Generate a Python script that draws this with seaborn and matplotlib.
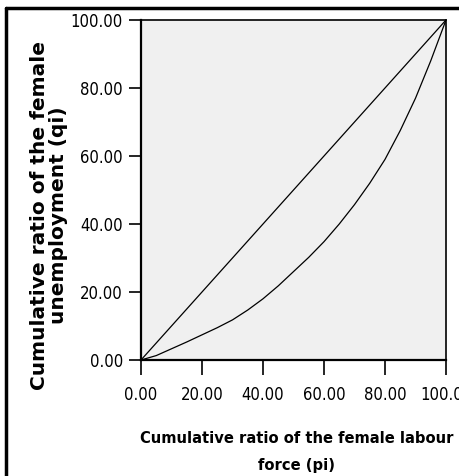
import matplotlib
matplotlib.use("Agg")
import matplotlib.pyplot as plt
from matplotlib import font_manager as fm
from matplotlib.lines import Line2D
import seaborn as sns
import pandas as pd

# cumulative shares (percent)
pi_equal = [0, 100]
qi_equal = [0, 100]

pi_lorenz = [0, 5, 10, 15, 20, 25, 30, 35, 40, 45, 50, 55, 60, 65, 70, 75, 80, 85, 90, 95, 100]
qi_lorenz = [0, 1.3, 3.3, 5.3, 7.4, 9.5, 11.8, 14.7, 18.0, 21.8, 26.0, 30.2, 34.8, 40.0,
             45.7, 52.0, 59.0, 67.5, 77.0, 88.0, 100]

ticks = [0, 20, 40, 60, 80, 100]
tick_labels = ["0.00", "20.00", "40.00", "60.00", "80.00", "100.00"]


def find_font(bold):
    # look for a narrow / condensed sans face, like the SPSS output uses
    keys = ["liberationsansnarrow", "arialnarrow", "dejavusanscondensed",
            "robotocondensed", "opensanscondensed", "notosanscondensed"]
    files = [f.fname for f in fm.fontManager.ttflist]
    for k in keys:
        for fn in files:
            low = fn.lower().replace("-", "").replace("_", "").replace(" ", "")
            name = low.rsplit("/", 1)[-1]
            if k not in name or "italic" in name or "oblique" in name:
                continue
            is_bold = "bold" in name and "semibold" not in name and "extrabold" not in name
            if is_bold == bold:
                return fn
    return None


sns.set_style("white")
plt.rcParams["font.family"] = ["DejaVu Sans"]

reg_file = find_font(False)
bold_file = find_font(True)
if reg_file:
    tick_fp = fm.FontProperties(fname=reg_file, size=12)
else:
    tick_fp = fm.FontProperties(family="DejaVu Sans", size=10.5)
if bold_file:
    xlab_fp = fm.FontProperties(fname=bold_file, size=11.8)
else:
    xlab_fp = fm.FontProperties(family="DejaVu Sans", weight="bold", size=11)
ylab_fp = fm.FontProperties(family="DejaVu Sans", weight="bold", size=14.5)

fig = plt.figure(figsize=(4.59, 4.76), dpi=100)
ax = fig.add_axes([141 / 459, 1 - 360 / 476, 305 / 459, 340 / 476])
ax.set_facecolor("#f0f0f0")

eq = pd.DataFrame({"pi": pi_equal, "qi": qi_equal})
lz = pd.DataFrame({"pi": pi_lorenz, "qi": qi_lorenz})
sns.lineplot(data=eq, x="pi", y="qi", ax=ax, color="black", linewidth=0.9, sort=False)
sns.lineplot(data=lz, x="pi", y="qi", ax=ax, color="black", linewidth=0.9, sort=False)

ax.set_xlim(0, 100)
ax.set_ylim(0, 100)
ax.set_xticks(ticks)
ax.set_xticklabels(tick_labels, fontproperties=tick_fp)
ax.set_yticks(ticks)
ax.set_yticklabels(tick_labels, fontproperties=tick_fp)
ax.tick_params(axis="x", direction="out", length=11, width=1.2, pad=8,
               colors="black", bottom=True)
ax.tick_params(axis="y", direction="out", length=9, width=1.2, pad=4,
               colors="black", left=True)
for s in ax.spines.values():
    s.set_color("black")
    s.set_linewidth(1.2)
ax.spines["left"].set_linewidth(1.6)
ax.spines["bottom"].set_linewidth(1.6)

ax.set_xlabel("")
ax.set_ylabel("")

fig.text(297 / 459, 1 - 452 / 476, "Cumulative ratio of the female labour\nforce (pi)",
         ha="center", va="center", fontproperties=xlab_fp, linespacing=2.0, color="black")
fig.text(49 / 459, 1 - 215 / 476, "Cumulative ratio of the female\nunemployment (qi)",
         ha="center", va="center", rotation=90, fontproperties=ylab_fp, linespacing=1.0,
         color="black")

# outer frame (left and top edges visible in the reference)
fig.add_artist(Line2D([6 / 459, 6 / 459], [0, 1 - 8 / 476], transform=fig.transFigure,
                      color="black", linewidth=2.5))
fig.add_artist(Line2D([6 / 459, 1], [1 - 8 / 476, 1 - 8 / 476], transform=fig.transFigure,
                      color="black", linewidth=2.5))

fig.savefig("out.png", dpi=100)
